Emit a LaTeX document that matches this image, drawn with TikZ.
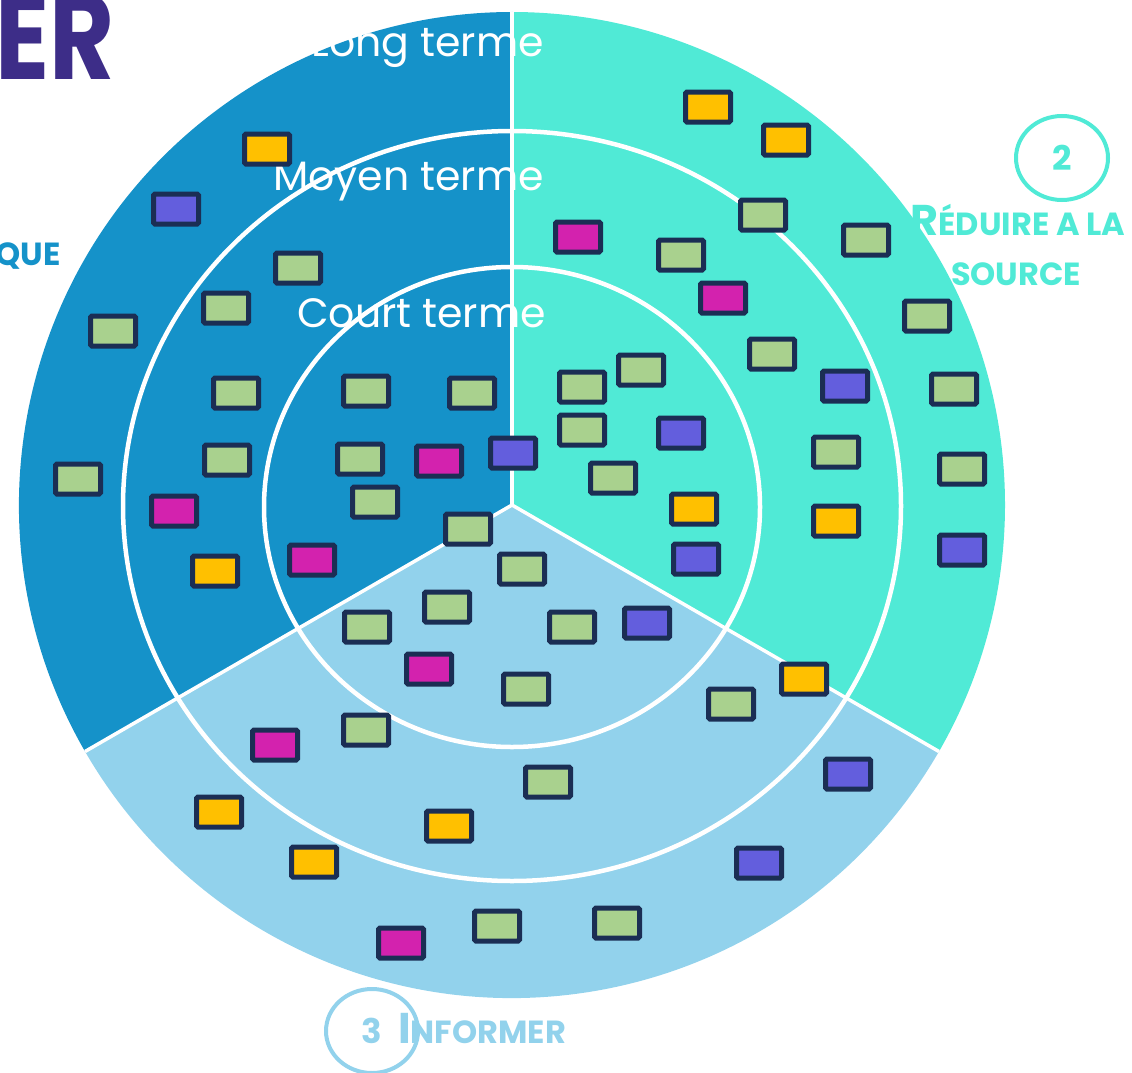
\documentclass[tikz,border=0pt]{standalone}
\usepackage{fontspec}
\setmainfont{Poppins}
\usetikzlibrary{shapes.geometric}
\definecolor{sectdark}{RGB}{21,146,201}
\definecolor{sectturq}{RGB}{80,234,214}
\definecolor{sectlight}{RGB}{146,210,236}
\definecolor{notenavy}{RGB}{27,46,84}
\definecolor{notegreen}{RGB}{169,209,142}
\definecolor{noteyellow}{RGB}{255,192,0}
\definecolor{notepurple}{RGB}{99,94,221}
\definecolor{notepink}{RGB}{211,34,174}
\definecolor{titlepurple}{RGB}{61,45,136}
\newcommand{\termfont}{\fontsize{41}{48}\selectfont}
\newcommand{\capfont}{\fontsize{43}{48}\selectfont\bfseries}
\newcommand{\smallcapfont}{\fontsize{32}{40}\selectfont\bfseries}

\begin{document}
\begin{tikzpicture}[x=1pt,y=-1pt,
  note/.style={rectangle, draw=notenavy, line width=5pt, rounded corners=1.5pt,
    minimum width=45pt, minimum height=30pt, inner sep=0pt},
  gnote/.style={note, fill=notegreen},
  ynote/.style={note, fill=noteyellow},
  pnote/.style={note, fill=notepurple},
  mnote/.style={note, fill=notepink},
  ring/.style={draw=white, line width=4.5pt},
  divider/.style={draw=white, line width=3.5pt},
  term/.style={text=white, font=\termfont, anchor=base east, inner sep=0pt},
  numring/.style={ellipse, draw, line width=4pt, minimum width=92pt, minimum height=84pt,
    font=\fontsize{34}{34}\selectfont\bfseries}]
  \useasboundingbox (0,0) rectangle (1132,1073);

  % the three sectors
  \coordinate (ctr) at (512,505);
  \fill[sectdark] (ctr) -- ++(150:493) arc[start angle=150, end angle=270, radius=493] -- cycle;
  \fill[sectturq] (ctr) -- ++(-90:493) arc[start angle=-90, end angle=30, radius=493] -- cycle;
  \fill[sectlight] (ctr) -- ++(30:493) arc[start angle=30, end angle=150, radius=493] -- cycle;

  % rings and dividers
  \draw[ring] (512,507) ellipse [x radius=248, y radius=240];
  \draw[ring] (512,506) ellipse [x radius=389, y radius=375];
  \path (ctr) ++(270:493) coordinate (edgeT);
  \path (ctr) ++(30:493) coordinate (edgeR);
  \path (ctr) ++(150:493) coordinate (edgeL);
  \draw[divider] (ctr) -- (edgeT);
  \draw[divider] (ctr) -- (edgeR);
  \draw[divider] (ctr) -- (edgeL);

  \node[term] at (544,57) (long) {Long terme};
  \node[term] at (544,190) (moyen) {Moyen terme};
  \node[term] at (546,327) (court) {Court terme};

  % notes, top left
  \node[ynote] at (267,149) (s1) {};
  \node[pnote] at (176,209) (s2) {};
  \node[gnote] at (298,268) (s3) {};
  \node[gnote] at (226,308) (s4) {};
  \node[gnote] at (113,331) (s5) {};
  \node[gnote] at (236,393) (s6) {};
  \node[gnote] at (366,391) (s7) {};
  \node[gnote] at (472,393) (s8) {};
  \node[gnote] at (227,460) (s9) {};
  \node[gnote] at (360,459) (s10) {};
  \node[mnote] at (439,461) (s11) {};
  \node[pnote] at (513,453) (s12) {};
  \node[gnote] at (78,479) (s13) {};
  \node[gnote] at (375,502) (s14) {};
  \node[mnote] at (174,511) (s15) {};
  \node[mnote] at (312,560) (s16) {};
  \node[ynote] at (215,571) (s17) {};
  % notes, right
  \node[ynote] at (708,107) (s18) {};
  \node[ynote] at (786,140) (s19) {};
  \node[gnote] at (763,215) (s20) {};
  \node[gnote] at (866,240) (s21) {};
  \node[mnote] at (578,237) (s22) {};
  \node[gnote] at (681,255) (s23) {};
  \node[mnote] at (723,298) (s24) {};
  \node[gnote] at (927,316) (s25) {};
  \node[gnote] at (772,354) (s26) {};
  \node[pnote] at (845,386) (s27) {};
  \node[gnote] at (954,389) (s28) {};
  \node[gnote] at (641,370) (s29) {};
  \node[gnote] at (582,387) (s30) {};
  \node[gnote] at (582,430) (s31) {};
  \node[pnote] at (681,433) (s32) {};
  \node[gnote] at (613,478) (s33) {};
  \node[gnote] at (836,452) (s34) {};
  \node[gnote] at (962,469) (s35) {};
  \node[ynote] at (694,509) (s36) {};
  \node[ynote] at (836,521) (s37) {};
  \node[pnote] at (696,559) (s38) {};
  \node[pnote] at (962,550) (s39) {};
  % notes, bottom
  \node[gnote] at (468,529) (s40) {};
  \node[gnote] at (522,569) (s41) {};
  \node[gnote] at (447,607) (s42) {};
  \node[gnote] at (367,627) (s43) {};
  \node[gnote] at (572,627) (s44) {};
  \node[pnote] at (647,623) (s45) {};
  \node[mnote] at (429,669) (s46) {};
  \node[gnote] at (526,689) (s47) {};
  \node[ynote] at (804,679) (s48) {};
  \node[gnote] at (731,704) (s49) {};
  \node[gnote] at (366,730) (s50) {};
  \node[mnote] at (275,745) (s51) {};
  \node[pnote] at (848,774) (s52) {};
  \node[gnote] at (548,782) (s53) {};
  \node[ynote] at (219,812) (s54) {};
  \node[ynote] at (449,826) (s55) {};
  \node[ynote] at (314,862) (s56) {};
  \node[pnote] at (759,863) (s57) {};
  \node[gnote] at (497,926) (s58) {};
  \node[gnote] at (617,923) (s59) {};
  \node[mnote] at (401,943) (s60) {};

  % labels round the disc
  \node[anchor=base west, inner sep=0pt, text=titlepurple,
    font=\fontsize{122}{122}\selectfont\bfseries] at (-5,80) (title) {\scalebox{0.82}[1]{ER}};
  \node[anchor=base east, inner sep=0pt, text=sectdark, font=\smallcapfont] at (61,265) (lbl1) {QUE};
  \node[numring, draw=sectturq, text=sectturq] at (1062,158) (num2) {2};
  \node[anchor=base, inner sep=0pt, text=sectturq] at (1018,235) (lbl2a) {{\capfont R}{\smallcapfont ÉDUIRE A LA}};
  \node[anchor=base, inner sep=0pt, text=sectturq, font=\smallcapfont] at (1016,285) (lbl2b) {SOURCE};
  \node[numring, draw=sectlight, text=sectlight] at (372,1031) (num3) {3};
  \node[anchor=base west, inner sep=0pt, text=sectlight] at (398,1043) (lbl3) {{\capfont I}{\smallcapfont NFORMER}};
\end{tikzpicture}
\end{document}
